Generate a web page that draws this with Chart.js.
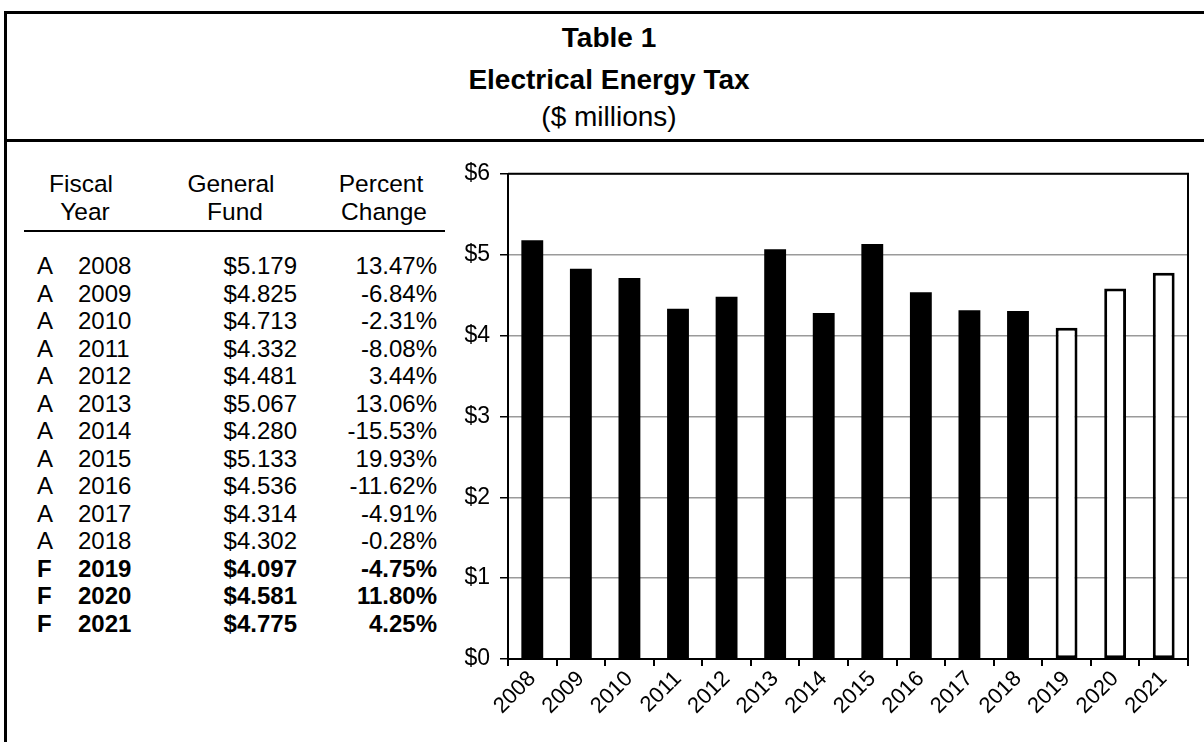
<!DOCTYPE html>
<html>
<head>
<meta charset="utf-8">
<script src="https://cdn.jsdelivr.net/npm/chart.js@4.4.0/dist/chart.umd.min.js"></script>
<style>
  html, body { margin: 0; padding: 0; background: #fff; }
  body { width: 1204px; height: 742px; position: relative; overflow: hidden;
         font-family: "Liberation Sans", Arial, sans-serif; color: #000; }
  #frame { position: absolute; left: 4px; top: 11px; width: 1220px; height: 760px;
           border-left: 3px solid #000; border-top: 3px solid #000; }
  #divider { position: absolute; left: 4px; top: 139px; width: 1220px; height: 3px; background: #000; }
  .title { position: absolute; left: 4px; width: 1210px; text-align: center; font-size: 28px; line-height: 28px; }
  .b { font-weight: bold; }
  .hdr { position: absolute; width: 120px; text-align: center; font-size: 24.5px; line-height: 26px; }
  #rule { position: absolute; left: 24px; top: 230px; width: 421px; height: 2px; background: #000; }
  .cell { position: absolute; font-size: 24px; line-height: 26px; white-space: nowrap; }
  #wrap { position: absolute; left: 440px; top: 150px; width: 764px; height: 592px; }
</style>
</head>
<body>
<div id="frame"></div>
<div id="divider"></div>
<div class="title b" style="top:24px">Table 1</div>
<div class="title b" style="top:66px">Electrical Energy Tax</div>
<div class="title" style="top:103px">($ millions)</div>

<div class="hdr" style="left:21px;top:171px">Fiscal</div>
<div class="hdr" style="left:25px;top:199px">Year</div>
<div class="hdr" style="left:171px;top:171px">General</div>
<div class="hdr" style="left:175px;top:199px">Fund</div>
<div class="hdr" style="left:321px;top:171px">Percent</div>
<div class="hdr" style="left:324px;top:199px">Change</div>
<div id="rule"></div>
<div id="rows"></div>

<div id="wrap"><canvas id="graph"></canvas></div>

<script>
// fiscal years, actual (A) / forecast (F), general fund ($ millions), percent change
const years = ["2008", "2009", "2010", "2011", "2012", "2013", "2014",
               "2015", "2016", "2017", "2018", "2019", "2020", "2021"]
const status = ["A", "A", "A", "A", "A", "A", "A", "A", "A", "A", "A", "F", "F", "F"]
const generalFund = [5.179, 4.825, 4.713, 4.332, 4.481, 5.067, 4.280,
                     5.133, 4.536, 4.314, 4.302, 4.097, 4.581, 4.775]
const pctChange = ["13.47%", "-6.84%", "-2.31%", "-8.08%", "3.44%", "13.06%", "-15.53%",
                   "19.93%", "-11.62%", "-4.91%", "-0.28%", "-4.75%", "11.80%", "4.25%"]
const yTicks = [0, 1, 2, 3, 4, 5, 6]

// table on the left
let rows = document.getElementById("rows")
for (let i = 0; i < years.length; i++) {
  let top = 253 + i * 27.5
  let w = status[i] == "F" ? "bold" : "normal"
  rows.innerHTML +=
    '<div class="cell" style="left:37px;top:' + top + 'px;font-weight:' + w + '">' + status[i] + '</div>' +
    '<div class="cell" style="left:78px;top:' + top + 'px;font-weight:' + w + '">' + years[i] + '</div>' +
    '<div class="cell" style="right:' + (1204 - 297) + 'px;top:' + top + 'px;font-weight:' + w + '">$' + generalFund[i].toFixed(3) + '</div>' +
    '<div class="cell" style="right:' + (1204 - 437) + 'px;top:' + top + 'px;font-weight:' + w + '">' + pctChange[i] + '</div>'
}

// black frame on top and right of the plot area
const plotBorder = {
  id: 'plotBorder',
  afterDraw(chart) {
    const a = chart.chartArea
    const c = chart.ctx
    c.save()
    c.strokeStyle = '#000'
    c.lineWidth = 2
    c.beginPath()
    c.moveTo(a.left, a.top)
    c.lineTo(a.right, a.top)
    c.lineTo(a.right, a.bottom)
    c.stroke()
    c.restore()
  }
}

const ctx = document.getElementById('graph').getContext('2d')
const chart = new Chart(ctx, {
  type: 'bar',
  data: {
    labels: years,
    datasets: [{
      label: 'General Fund',
      data: generalFund,
      backgroundColor: status.map(s => s == "F" ? '#fff' : '#000'),
      borderColor: '#000',
      borderWidth: status.map(s => s == "F" ? 3 : 0),
      borderSkipped: false,
      categoryPercentage: 1,
      barPercentage: 0.45
    }]
  },
  plugins: [plotBorder],
  options: {
    responsive: true,
    maintainAspectRatio: false,
    animation: false,
    layout: { padding: { top: 20, right: 16, left: 0, bottom: 0 } },
    plugins: { legend: { display: false }, tooltip: { enabled: false } },
    scales: {
      x: {
        afterFit: s => { s.height = 83 },
        grid: { offset: true, drawOnChartArea: false, tickLength: 7, tickColor: '#000', lineWidth: 2 },
        border: { color: '#000', width: 2 },
        ticks: {
          color: '#000', minRotation: 45, maxRotation: 45, padding: 0,
          font: { family: '"Liberation Sans", Arial', size: 22 }
        }
      },
      y: {
        min: 0, max: 6,
        afterFit: s => { s.width = 68 },
        afterBuildTicks: s => { s.ticks = yTicks.map(v => ({ value: v })) },
        grid: { color: '#9a9a9a', lineWidth: 1.5, tickLength: 8, tickColor: '#000' },
        border: { color: '#000', width: 2 },
        ticks: {
          color: '#000', padding: 10,
          callback: v => '$' + v,
          font: { family: '"Liberation Sans", Arial', size: 23 }
        }
      }
    }
  }
})
</script>
</body>
</html>
